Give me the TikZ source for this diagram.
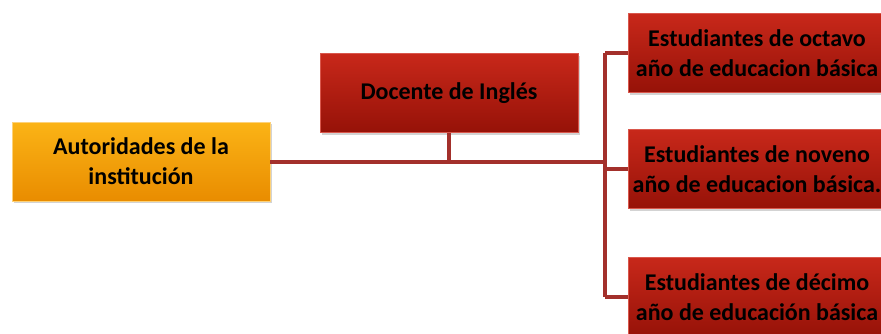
\documentclass[tikz,border=0pt]{standalone}
\usepackage{fontspec}
\setmainfont{Carlito}
\usepackage{xcolor}
\usetikzlibrary{positioning,calc,shadows}
\definecolor{redtop}{HTML}{C8281A}
\definecolor{redbot}{HTML}{961208}
\definecolor{redrim}{HTML}{D9574C}
\definecolor{orgtop}{HTML}{FBB416}
\definecolor{orgbot}{HTML}{E98C00}
\definecolor{orgrim}{HTML}{FDD27A}
\definecolor{linkred}{HTML}{A3302B}

\begin{document}
\begin{tikzpicture}[x=1pt,y=1pt,font=\fontsize{24}{30}\selectfont\bfseries,
  box/.style={rectangle,minimum width=258pt,minimum height=79pt,align=center,inner sep=2pt,
    drop shadow={opacity=0.35,shadow xshift=1.5pt,shadow yshift=-2pt}},
  redbox/.style={box,top color=redtop,bottom color=redbot,draw=redrim,line width=0.8pt},
  orgbox/.style={box,top color=orgtop,bottom color=orgbot,draw=orgrim,line width=0.8pt},
  link/.style={draw=linkred,line width=4pt}]
  \useasboundingbox (0,0) rectangle (881,-333);
  \clip (0,0) rectangle (881,-333);
  \node[orgbox] (aut) at (141,-161.5) {Autoridades de la\\institución};
  \node[redbox] (doc) at (449,-93) {Docente de Inglés};
  \node[redbox] (e1) at (757,-53) {Estudiantes de octavo\\año de educacion básica};
  \node[redbox] (e2) at (757,-169) {Estudiantes de noveno\\año de educacion básica.};
  \node[redbox,minimum height=80pt] (e3) at (757,-297) {Estudiantes de décimo\\año de educación básica};
  \coordinate (bus) at (605,-160);
  % connectors
  \draw[link] (aut.east) -- (aut.east -| bus);
  \draw[link] (doc.south) -- (doc.south |- aut.east);
  \draw[link] (bus |- e1.west) -- (bus |- e3.west);
  \draw[link] (bus |- e1.west) -- (e1.west);
  \draw[link] (bus |- e2.west) -- (e2.west);
  \draw[link] (bus |- e3.west) -- (e3.west);
\end{tikzpicture}
\end{document}
